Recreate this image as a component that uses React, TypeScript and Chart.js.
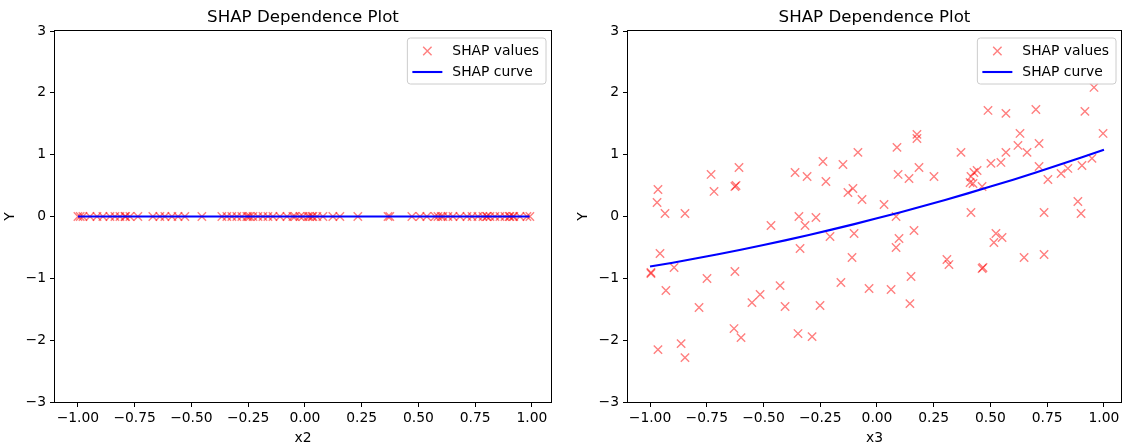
import React, { useEffect, useRef } from "react";
import { Chart, registerables } from "chart.js";

Chart.register(...registerables);

// ---------- data ----------
const TITLE = "SHAP Dependence Plot";
const SCATTER_LABEL = "SHAP values";
const CURVE_LABEL = "SHAP curve";
const Y_LABEL = "Y";

const X_TICKS = [-1, -0.75, -0.5, -0.25, 0, 0.25, 0.5, 0.75, 1];
const Y_TICKS = [-3, -2, -1, 0, 1, 2, 3];

const x2Values = [
  -1.0, -0.99, -0.978, -0.947, -0.916, -0.89, -0.859, -0.837, -0.815, -0.793,
  -0.79, -0.771, -0.736, -0.67, -0.639, -0.617, -0.586, -0.559, -0.529, -0.454,
  -0.366, -0.344, -0.322, -0.3, -0.278, -0.256, -0.25, -0.242, -0.229, -0.207,
  -0.185, -0.163, -0.141, -0.11, -0.079, -0.053, -0.044, -0.022, -0.009, 0.013,
  0.02, 0.031, 0.035, 0.053, 0.079, 0.123, 0.154, 0.233, 0.366, 0.374,
  0.471, 0.507, 0.537, 0.573, 0.586, 0.6, 0.608, 0.63, 0.652, 0.683,
  0.714, 0.736, 0.762, 0.784, 0.8, 0.802, 0.815, 0.837, 0.859, 0.881,
  0.9, 0.903, 0.916, 0.92, 0.947, 0.978, 0.991,
];
const x2Shap = [
  0, 0, 0, 0, 0, 0, 0, 0, 0, 0,
  0, 0, 0, 0, 0, 0, 0, 0, 0, 0,
  0, 0, 0, 0, 0, 0, 0, 0, 0, 0,
  0, 0, 0, 0, 0, 0, 0, 0, 0, 0,
  0, 0, 0, 0, 0, 0, 0, 0, 0, 0,
  0, 0, 0, 0, 0, 0, 0, 0, 0, 0,
  0, 0, 0, 0, 0, 0, 0, 0, 0, 0,
  0, 0, 0, 0, 0, 0, 0,
];
const x2CurveX = [-1.0, -0.5, 0.0, 0.5, 0.99];
const x2CurveY = [0, 0, 0, 0, 0];

const x3Values = [
  0.956, 0.489, 0.568, 0.7, 0.916, 0.996, 0.176, 0.176, 0.63, 0.088,
  0.37, 0.621, 0.714, 0.661, 0.568, 0.093, 0.141, 0.185, 0.251, 0.502,
  0.546, 0.714, 0.753, 0.811, 0.841, 0.903, 0.947, 0.414, 0.427, 0.441,
  0.41, 0.423, 0.463, 0.031, 0.084, 0.414, 0.736, 0.885, 0.899, -0.965,
  -0.969, -0.934, -0.846, -0.731, -0.718, -0.608, -0.626, -0.621, -0.361, -0.308,
  -0.238, -0.225, -0.15, -0.084, -0.128, -0.106, -0.066, -0.344, -0.269, -0.956,
  -0.894, -0.996, -0.996, -0.93, -0.965, -0.863, -0.846, -0.784, -0.749, -0.626,
  -0.63, -0.599, -0.551, -0.515, -0.467, -0.427, -0.405, -0.317, -0.339, -0.348,
  -0.286, -0.251, -0.207, -0.159, -0.101, -0.11, -0.035, 0.097, 0.084, 0.163,
  0.062, 0.15, 0.145, 0.308, 0.317, 0.467, 0.463, 0.524, 0.551, 0.515,
  0.648, 0.736,
];
const x3Shap = [
  2.087, 1.715, 1.667, 1.731, 1.699, 1.343, 1.327, 1.262, 1.343, 1.117,
  1.036, 1.149, 1.181, 1.036, 1.036, 0.68, 0.615, 0.793, 0.647, 0.858,
  0.874, 0.809, 0.599, 0.696, 0.777, 0.825, 0.939, 0.647, 0.712, 0.744,
  0.55, 0.534, 0.485, 0.194, 0.0, 0.065, 0.065, 0.243, 0.049, 0.437,
  0.227, 0.049, 0.049, 0.68, 0.405, 0.793, 0.485, 0.502, 0.712, 0.647,
  0.89, 0.566, 0.841, 1.036, 0.388, 0.453, 0.275, 0.0, -0.016, -0.599,
  -0.825, -0.922, -0.906, -1.197, -2.152, -2.055, -2.282, -1.472, -1.003, -0.89,
  -1.812, -1.958, -1.392, -1.262, -0.146, -1.117, -1.456, -0.146, -0.518, -1.893,
  -1.942, -1.44, -0.324, -1.068, -0.275, -0.663, -1.165, -0.356, -0.502, -0.227,
  -1.181, -0.971, -1.408, -0.696, -0.777, -0.825, -0.841, -0.275, -0.34, -0.421,
  -0.663, -0.615,
];
const x3CurveX = [
  -1.0, -0.9, -0.8, -0.7, -0.6, -0.5, -0.4, -0.3, -0.2, -0.1, 0.0,
  0.1, 0.2, 0.3, 0.4, 0.5, 0.6, 0.7, 0.8, 0.9, 1.0,
];
const x3CurveY = [
  -0.81, -0.747, -0.68, -0.611, -0.538, -0.461, -0.382, -0.299, -0.212, -0.123, -0.03,
  0.066, 0.165, 0.268, 0.374, 0.484, 0.596, 0.712, 0.832, 0.954, 1.08,
];

// ---------- styling ----------
const FONT = "'DejaVu Sans', sans-serif";
const TICK_PX = 13.89;
const TITLE_PX = 16.67;
const SCATTER_COLOR = "rgba(255,0,0,0.5)";
const CURVE_COLOR = "#0000ff";

const fmtMinus = (s: string) => s.replace("-", "\u2212");

const decorPlugin = {
  id: "mplDecor",
  afterDraw(chart: any) {
    const { ctx, chartArea: a } = chart;
    ctx.save();
    // frame
    ctx.strokeStyle = "#000";
    ctx.lineWidth = 1;
    ctx.strokeRect(
      Math.round(a.left) - 0.5,
      Math.round(a.top) - 0.5,
      Math.round(a.right - a.left) + 1,
      Math.round(a.bottom - a.top) + 1
    );
    // title
    ctx.fillStyle = "#000";
    ctx.font = `${TITLE_PX}px ${FONT}`;
    ctx.textAlign = "center";
    ctx.textBaseline = "alphabetic";
    ctx.fillText(TITLE, (a.left + a.right) / 2, a.top - 9);

    // legend
    const ds = chart.data.datasets;
    ctx.font = `${TICK_PX}px ${FONT}`;
    const texts = [ds[0].label, ds[1].label];
    const tw = Math.max(...texts.map((t: string) => ctx.measureText(t).width));
    const boxW = 45 + tw + 7;
    const boxH = 46;
    const bx = a.right - 5 - boxW;
    const by = a.top + 7;
    ctx.beginPath();
    const r = 3;
    ctx.moveTo(bx + r, by);
    ctx.arcTo(bx + boxW, by, bx + boxW, by + boxH, r);
    ctx.arcTo(bx + boxW, by + boxH, bx, by + boxH, r);
    ctx.arcTo(bx, by + boxH, bx, by, r);
    ctx.arcTo(bx, by, bx + boxW, by, r);
    ctx.closePath();
    ctx.fillStyle = "rgba(255,255,255,0.8)";
    ctx.fill();
    ctx.strokeStyle = "#cccccc";
    ctx.lineWidth = 1;
    ctx.stroke();

    const row1 = by + 13;
    const row2 = by + 34;
    // marker handle
    const mx = bx + 20;
    const h = 4.2;
    ctx.strokeStyle = SCATTER_COLOR;
    ctx.lineWidth = 1.4;
    ctx.beginPath();
    ctx.moveTo(mx - h, row1 - h);
    ctx.lineTo(mx + h, row1 + h);
    ctx.moveTo(mx - h, row1 + h);
    ctx.lineTo(mx + h, row1 - h);
    ctx.stroke();
    // line handle
    ctx.strokeStyle = CURVE_COLOR;
    ctx.lineWidth = 2.1;
    ctx.beginPath();
    ctx.moveTo(bx + 5, row2);
    ctx.lineTo(bx + 35, row2);
    ctx.stroke();
    // texts
    ctx.fillStyle = "#000";
    ctx.textAlign = "left";
    ctx.textBaseline = "middle";
    ctx.fillText(texts[0], bx + 45, row1);
    ctx.fillText(texts[1], bx + 45, row2);
    ctx.restore();
  },
};

type PanelProps = {
  left: number;
  width: number;
  padRight: number;
  xMin: number;
  xMax: number;
  xLabel: string;
  xs: number[];
  ys: number[];
  cx: number[];
  cy: number[];
};

function Panel(p: PanelProps) {
  const ref = useRef<HTMLCanvasElement | null>(null);
  useEffect(() => {
    if (!ref.current) return;
    const tickFont = { family: FONT, size: TICK_PX };
    const grid = {
      display: true,
      drawOnChartArea: false,
      drawTicks: true,
      tickLength: 5,
      color: "#000",
      lineWidth: 1,
    };
    const chart = new Chart(ref.current, {
      type: "scatter",
      data: {
        datasets: [
          {
            label: SCATTER_LABEL,
            data: p.xs.map((x, i) => ({ x, y: p.ys[i] })),
            pointStyle: "crossRot",
            pointRadius: 5.9,
            borderColor: SCATTER_COLOR,
            backgroundColor: SCATTER_COLOR,
            borderWidth: 1.4,
            showLine: false,
            order: 1,
          } as any,
          {
            label: CURVE_LABEL,
            data: p.cx.map((x, i) => ({ x, y: p.cy[i] })),
            showLine: true,
            pointRadius: 0,
            borderColor: CURVE_COLOR,
            backgroundColor: CURVE_COLOR,
            borderWidth: 2.1,
            tension: 0,
            order: 0,
          } as any,
        ],
      },
      options: {
        animation: false,
        responsive: false,
        devicePixelRatio: 1,
        layout: {
          autoPadding: false,
          padding: { top: 31, right: p.padRight, left: 0, bottom: 0 },
        },
        plugins: {
          legend: { display: false },
          title: { display: false },
          tooltip: { enabled: false },
        },
        events: [],
        scales: {
          x: {
            type: "linear",
            min: p.xMin,
            max: p.xMax,
            grid,
            border: { display: false },
            ticks: {
              font: tickFont,
              color: "#000",
              padding: 3,
              maxRotation: 0,
              autoSkip: false,
              callback: (v: any) => fmtMinus(Number(v).toFixed(2)),
            },
            title: {
              display: true,
              text: p.xLabel,
              font: tickFont,
              color: "#000",
              padding: { top: 0, bottom: -2 },
            },
            afterBuildTicks: (s: any) => {
              s.ticks = X_TICKS.map((v) => ({ value: v }));
            },
            afterFit: (s: any) => {
              s.height = 43;
              s.paddingLeft = 0;
              s.paddingRight = 0;
            },
          },
          y: {
            type: "linear",
            min: -3,
            max: 3,
            grid,
            border: { display: false },
            ticks: {
              font: tickFont,
              color: "#000",
              padding: 4,
              autoSkip: false,
              callback: (v: any) => fmtMinus(String(v)),
            },
            title: {
              display: true,
              text: Y_LABEL,
              font: tickFont,
              color: "#000",
              padding: { top: 2.5, bottom: 0 },
            },
            afterBuildTicks: (s: any) => {
              s.ticks = Y_TICKS.map((v) => ({ value: v }));
            },
            afterFit: (s: any) => {
              s.width = 55;
              s.paddingTop = 0;
              s.paddingBottom = 0;
            },
          },
        },
      } as any,
      plugins: [decorPlugin],
    });
    return () => chart.destroy();
  }, []);
  return (
    <canvas
      ref={ref}
      width={p.width}
      height={445}
      style={{ position: "absolute", left: p.left, top: 0, width: p.width, height: 445 }}
    />
  );
}

export default function App() {
  return (
    <div
      style={{
        position: "fixed",
        left: 0,
        top: 0,
        width: 1123,
        height: 445,
        background: "#fff",
        overflow: "hidden",
      }}
    >
      <Panel
        left={0}
        width={580}
        padRight={29}
        xMin={-1.101}
        xMax={1.084}
        xLabel="x2"
        xs={x2Values}
        ys={x2Shap}
        cx={x2CurveX}
        cy={x2CurveY}
      />
      <Panel
        left={573}
        width={550}
        padRight={2}
        xMin={-1.097}
        xMax={1.075}
        xLabel="x3"
        xs={x3Values}
        ys={x3Shap}
        cx={x3CurveX}
        cy={x3CurveY}
      />
    </div>
  );
}
